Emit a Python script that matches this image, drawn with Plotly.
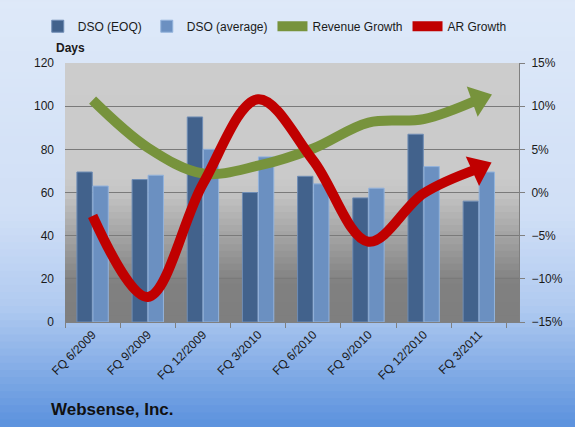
import plotly.graph_objects as go

categories = ["FQ 6/2009", "FQ 9/2009", "FQ 12/2009", "FQ 3/2010",
              "FQ 6/2010", "FQ 9/2010", "FQ 12/2010", "FQ 3/2011"]
dso_eoq = [69.5, 66, 95, 60, 67.5, 57.5, 87, 56]
dso_avg = [63, 68, 80, 76.5, 64, 62, 72, 69.5]
revenue_growth = [10.7, 5.2, 2.2, 3.1, 5.1, 8.1, 8.5, 10.8]
ar_growth = [-2.7, -12.1, 1.0, 10.8, 3.7, -5.7, -0.1, 2.8]

FONT = "Liberation Sans"
GREEN = "#77933C"
RED = "#C00000"

fig = go.Figure()

fig.add_trace(go.Bar(x=categories, y=dso_eoq, name="DSO (EOQ)",
                     marker=dict(color="#42628c", line=dict(color="#6f8db5", width=1))))
fig.add_trace(go.Bar(x=categories, y=dso_avg, name="DSO (average)",
                     marker=dict(color="#6b90c1", line=dict(color="#93b3dc", width=1))))

for vals, name, col in [(revenue_growth, "Revenue Growth", GREEN), (ar_growth, "AR Growth", RED)]:
    fig.add_trace(go.Scatter(x=categories, y=vals, name=name, yaxis="y2",
                             mode="lines", line=dict(color=col, width=10, shape="spline", smoothing=1)))
    fig.add_trace(go.Scatter(x=categories[-2:], y=vals[-2:], yaxis="y2", showlegend=False,
                             mode="markers", hoverinfo="skip", opacity=1,
                             marker=dict(symbol="triangle-up", angleref="previous", size=[0, 28],
                                         color=col, opacity=1, line=dict(width=0, color=col))))

def lerp(c1, c2, t):
    return tuple(round(a + (b - a) * t) for a, b in zip(c1, c2))

def interp(stops, f):
    for j in range(len(stops) - 1):
        if stops[j][0] <= f <= stops[j + 1][0]:
            t = (f - stops[j][0]) / (stops[j + 1][0] - stops[j][0])
            return lerp(stops[j][1], stops[j + 1][1], t)
    return stops[-1][1]

shapes = []
N = 60
stops = [(0.0, (222, 233, 249)), (0.5, (208, 223, 246)), (0.72, (176, 202, 240)), (1.0, (90, 145, 221))]
H = 427
for i in range(N):
    c = interp(stops, (i + 0.5) / N)
    top_px = i * H / N
    bot_px = (i + 1) * H / N + 1
    y0 = (322 - bot_px) / 260
    y1 = (322 - top_px) / 260
    shapes.append(dict(type="rect", xref="paper", yref="paper", x0=-0.2, x1=1.2, y0=y0, y1=y1,
                       fillcolor="rgb(%d,%d,%d)" % c, line=dict(width=0), layer="below"))

M = 40
pstops = [(0.0, (127, 127, 127)), (0.15, (128, 128, 128)), (0.5, (196, 196, 196)), (0.55, (202, 202, 202)), (1.0, (204, 204, 204))]
for i in range(M):
    c = interp(pstops, (i + 0.5) / M)
    shapes.append(dict(type="rect", xref="x domain", yref="y domain", x0=0, x1=1,
                       y0=i / M, y1=min(1, (i + 1) / M + 0.003),
                       fillcolor="rgb(%d,%d,%d)" % c, line=dict(width=0), layer="below"))

fig.update_layout(
    width=575, height=427,
    margin=dict(l=65, r=54, t=62, b=105),
    paper_bgcolor="#dde8f8",
    plot_bgcolor="rgba(0,0,0,0)",
    font=dict(family=FONT, size=12, color="#1a1a1a"),
    barmode="group", bargap=0.42, bargroupgap=0.04,
    shapes=shapes,
    showlegend=True,
    legend=dict(orientation="h", xref="paper", yref="paper", x=-0.06, xanchor="left",
                y=1.142, yanchor="middle", bgcolor="rgba(0,0,0,0)", font=dict(size=12),
                itemwidth=30, tracegroupgap=0),
    xaxis=dict(tickangle=-45, tickson="boundaries", ticks="outside", ticklen=5,
               tickcolor="#808080", showline=True, linecolor="#808080", showgrid=False,
               tickfont=dict(size=12), fixedrange=True),
    yaxis=dict(range=[0, 120], dtick=20, showgrid=True, gridcolor="#7a7a7a", gridwidth=1,
               zeroline=False, showline=False, ticks="", tickfont=dict(size=12),
               ticklabelstandoff=10),
    yaxis2=dict(range=[-15, 15], dtick=5, ticksuffix="%", overlaying="y", side="right",
                showgrid=False, zeroline=False, showline=True, linecolor="#808080",
                ticks="outside", ticklen=5, tickcolor="#808080", tickfont=dict(size=12),
                ticklabelstandoff=4),
    annotations=[
        dict(text="<b>Days</b>", xref="paper", yref="paper", x=-0.024, y=1.058,
             xanchor="left", yanchor="middle", showarrow=False, font=dict(size=12)),
        dict(text="<b>Websense, Inc.</b>", xref="paper", yref="paper", x=-0.035, y=-0.338,
             xanchor="left", yanchor="middle", showarrow=False, font=dict(size=17, color="#111111")),
    ],
)

fig.write_html("out.html")
